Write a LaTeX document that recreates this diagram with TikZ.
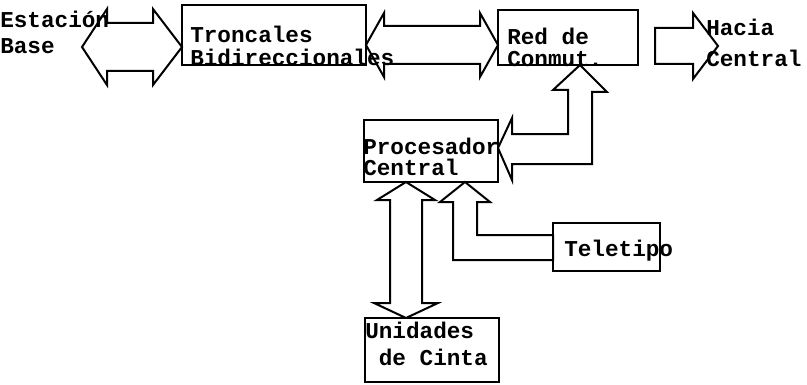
\documentclass[tikz,border=0pt]{standalone}
\usepackage{fontspec}
\newfontfamily\typewr{Liberation Mono}
\usepackage{tikz}
\usetikzlibrary{fit}

\begin{document}
\begin{tikzpicture}[
        x=0.75pt, y=-0.75pt,
        box/.style={rectangle, draw, line width=1.5pt, inner sep=0pt, outer sep=0pt},
        lbl/.style={anchor=north west, inner sep=0pt, align=left, font=\typewr\bfseries\fontsize{17}{15}\selectfont},
        fat/.style={draw, line width=1.5pt, line join=miter}
    ]
    \useasboundingbox (0,0) rectangle (807,385);

    % Boxes
    \node[box, fit={(182,5) (366,65)}] (troncales) {};
    \node[box, fit={(498,10) (638,65)}] (red) {};
    \node[box, fit={(364,120) (498,182)}] (proc) {};
    \node[box, fit={(553,223) (660,271)}] (tele) {};
    \node[box, fit={(365,318) (499,382)}] (unid) {};

    % Free ends
    \coordinate (baseTip) at (82,47);
    \coordinate (haciaTip) at (718,46);

    % Block arrows
    \draw[fat] (baseTip) -- ++(25,-38) -- ++(0,14) -- ++(46,0) -- ++(0,-14) -- (troncales.west |- baseTip) -- ++(-29,38) -- ++(0,-14) -- ++(-46,0) -- ++(0,14) -- cycle;
    \draw[fat] (troncales.east |- 0,45) -- ++(18,-32) -- ++(0,13) -- ++(96,0) -- ++(0,-13) -- (red.west |- 0,45) -- ++(-18,32) -- ++(0,-13) -- ++(-96,0) -- ++(0,13) -- cycle;
    \draw[fat] (haciaTip) -- ++(-25,-33) -- ++(0,15) -- ++(-38,0) -- ++(0,36) -- ++(38,0) -- ++(0,15) -- cycle;
    \draw[fat] (red.south -| 580,0) -- ++(27,27) -- ++(-15,0) -- ++(0,72) -- ++(-80,0) -- ++(0,16) -- (proc.east |- 0,148) -- ++(14,-30) -- ++(0,16) -- ++(56,0) -- ++(0,-44) -- ++(-15,0) -- cycle;
    \draw[fat] (proc.south -| 406,0) -- ++(29,18) -- ++(-13,0) -- ++(0,103) -- ++(16,0) -- (unid.north -| 406,0) -- ++(-32,-15) -- ++(16,0) -- ++(0,-103) -- ++(-13,0) -- cycle;
    \draw[fat] (proc.south -| 465,0) -- ++(25,20) -- ++(-13,0) -- ++(0,33) -- (tele.west |- 0,235) -- (tele.west |- 0,260) -- ++(-100,0) -- ++(0,-58) -- ++(-13,0) -- cycle;

    % Labels
    \node[lbl] (estText) at (0,11) {Estación\\[4.5pt]Base};
    \node[lbl] (tronText) at (190,26) {Troncales\\[2.25pt]Bidireccionales};
    \node[lbl] (redText) at (507,28) {Red de\\[1.5pt]Conmut.};
    \node[lbl] (haciaText) at (706,19) {Hacia\\[8.25pt]Central};
    \node[lbl] (procText) at (363,138) {Procesador\\[0.75pt]Central};
    \node[lbl] (teleText) at (564,240) {Teletipo};
    \node[lbl] (unidText) at (365,322) {Unidades\\[5.25pt]\ de Cinta};

\end{tikzpicture}
\end{document}
